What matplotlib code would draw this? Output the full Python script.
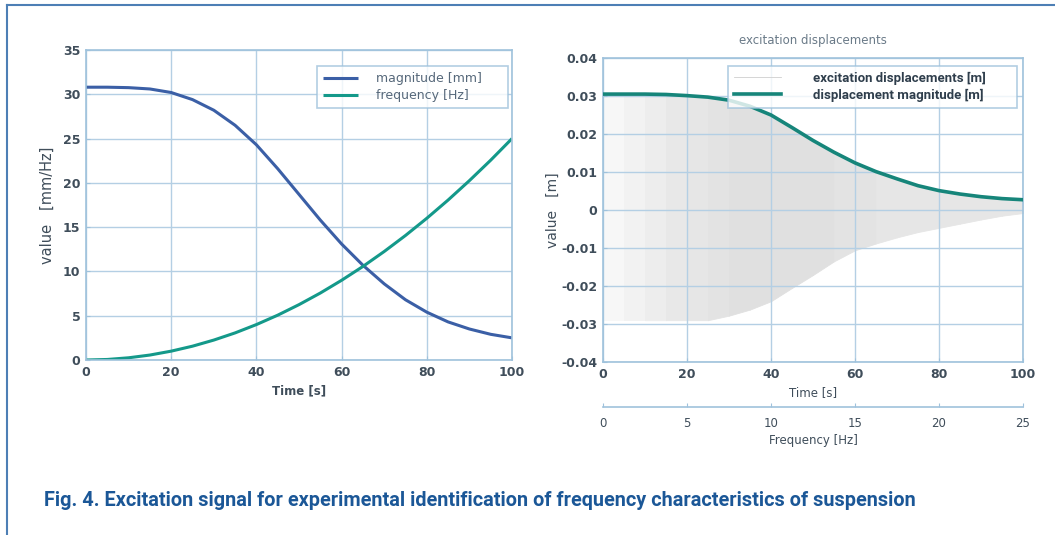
import matplotlib
matplotlib.use("Agg")
import matplotlib.pyplot as plt
from matplotlib.lines import Line2D
import numpy as np

# ---------------- data ----------------
time_s = [0, 5, 10, 15, 20, 25, 30, 35, 40, 45, 50, 55, 60, 65, 70, 75, 80, 85, 90, 95, 100]
magnitude_mm = [30.8, 30.8, 30.75, 30.6, 30.2, 29.4, 28.2, 26.5, 24.3, 21.6, 18.7,
                15.8, 13.1, 10.7, 8.6, 6.8, 5.4, 4.3, 3.5, 2.9, 2.5]
frequency_hz = [0.0, 0.06, 0.25, 0.56, 1.0, 1.56, 2.25, 3.06, 4.0, 5.06, 6.25,
                7.56, 9.0, 10.56, 12.25, 14.06, 16.0, 18.06, 20.25, 22.56, 25.0]

disp_mag_m = [0.0305, 0.0305, 0.0305, 0.0304, 0.0301, 0.0297, 0.0289, 0.0273, 0.0250,
              0.0217, 0.0183, 0.0152, 0.0124, 0.0101, 0.0082, 0.0064, 0.0051, 0.0042,
              0.0035, 0.0030, 0.0027]
# lower envelope of the (dense) excitation displacement signal
exc_lower_m = [-0.0290, -0.0290, -0.0290, -0.0290, -0.0290, -0.0290, -0.0278, -0.0262, -0.0240,
               -0.0205, -0.0171, -0.0135, -0.0106, -0.0088, -0.0072, -0.0058, -0.0047,
               -0.0036, -0.0025, -0.0015, -0.0008]
# grey density of the excitation trace in each 5 s segment (0 = white, 1 = black)
exc_density = [0.03, 0.05, 0.07, 0.09, 0.10, 0.11, 0.12, 0.12, 0.12, 0.12,
               0.12, 0.11, 0.11, 0.10, 0.10, 0.10, 0.10, 0.10, 0.10, 0.10]

left_yticks = [0, 5, 10, 15, 20, 25, 30, 35]
right_yticks = [-0.04, -0.03, -0.02, -0.01, 0, 0.01, 0.02, 0.03, 0.04]
right_yticklabels = ["-0.04", "-0.03", "-0.02", "-0.01", "0", "0.01", "0.02", "0.03", "0.04"]
time_ticks = [0, 20, 40, 60, 80, 100]
freq_ticks = [0, 5, 10, 15, 20, 25]

caption = "Fig. 4. Excitation signal for experimental identification of frequency characteristics of suspension"

# ---------------- style ----------------
W, H = 1055, 535
fig = plt.figure(figsize=(W / 100, H / 100), dpi=100)
fig.patch.set_facecolor("white")

tick_col = "#3f4d5a"
grid_col = "#b4cfe4"
spine_col = "#9fc2dc"
blue = "#3b5fa6"
teal = "#14998a"
teal_dark = "#16857a"

def fx(px):
    return px / W

def fy(py):
    return 1 - py / H

def style_axes(ax):
    for s in ax.spines.values():
        s.set_color(spine_col)
        s.set_linewidth(1.2)
    ax.grid(True, color=grid_col, linewidth=1.0)
    ax.set_axisbelow(True)
    ax.tick_params(direction="in", length=3, color=spine_col, labelcolor=tick_col,
                   labelsize=9, pad=4)
    for lab in ax.get_xticklabels() + ax.get_yticklabels():
        lab.set_fontweight("bold")

# ---------------- left axes ----------------
axL = fig.add_axes([fx(86), fy(360), fx(512) - fx(86), fy(50) - fy(360)])
axL.plot(time_s, magnitude_mm, color=blue, lw=2.2, label="magnitude [mm]", solid_capstyle="butt")
axL.plot(time_s, frequency_hz, color=teal, lw=2.2, label="frequency [Hz]", solid_capstyle="butt")
axL.set_xlim(0, 100)
axL.set_ylim(0, 35)
axL.set_xticks(time_ticks)
axL.set_yticks(left_yticks)
style_axes(axL)
axL.set_xlabel("Time [s]", fontsize=8.5, color=tick_col, fontweight="bold", labelpad=4)
axL.set_ylabel("value   [mm/Hz]", fontsize=10.5, color=tick_col, labelpad=6)
x0, y0 = (317 - 86) / 426, (360 - 108) / 310
leg = axL.legend(loc="lower left", bbox_to_anchor=(x0, y0, (508 - 317) / 426, (108 - 59) / 310),
                 mode="expand", borderaxespad=0, fontsize=9, frameon=True, fancybox=False,
                 handlelength=2.8, handletextpad=1.5, borderpad=0.45, labelspacing=0.35)
leg.get_frame().set_edgecolor(spine_col)
leg.get_frame().set_linewidth(1.2)
for t in leg.get_texts():
    t.set_color("#56687a")

# ---------------- right axes ----------------
axR = fig.add_axes([fx(603), fy(362), fx(1023) - fx(603), fy(58) - fy(362)])
for i in range(len(time_s) - 1):
    seg_t = time_s[i:i + 2]
    g = 1 - exc_density[i]
    axR.fill_between(seg_t, exc_lower_m[i:i + 2], disp_mag_m[i:i + 2],
                     facecolor=(g, g, g), edgecolor=(g, g, g), linewidth=0.6, zorder=0.3)
axR.plot([], [], color="#cfcfcf", lw=0.6, label="excitation displacements [m]")
axR.plot(time_s, disp_mag_m, color=teal_dark, lw=2.6, label="displacement magnitude [m]",
         zorder=3)
axR.set_xlim(0, 100)
axR.set_ylim(-0.04, 0.04)
axR.set_xticks(time_ticks)
axR.set_yticks(right_yticks)
axR.set_yticklabels(right_yticklabels)
style_axes(axR)
axR.set_xlabel("Time [s]", fontsize=8.5, color=tick_col, labelpad=4)
axR.set_ylabel("value   [m]", fontsize=10, color=tick_col, labelpad=1)
axR.set_title("excitation displacements", fontsize=8.5, color="#6a7a88", pad=10)
x0, y0 = (728 - 603) / 420, (362 - 108) / 304
legR = axR.legend(loc="lower left", bbox_to_anchor=(x0, y0, (1017 - 728) / 420, (108 - 58) / 304),
                  mode="expand", borderaxespad=0, frameon=True, fancybox=False,
                  handlelength=3.6, handletextpad=2.4, borderpad=0.45, labelspacing=0.3,
                  prop={"weight": "bold", "size": 9.5, "family": ["Roboto", "DejaVu Sans"]})
legR.get_frame().set_edgecolor(spine_col)
legR.get_frame().set_linewidth(1.2)
for t in legR.get_texts():
    t.set_color("#2f3e4c")

# secondary frequency axis
sec = axR.secondary_xaxis((362 - 407) / 304, functions=(lambda t: np.asarray(t) / 4.0,
                                                      lambda f: np.asarray(f) * 4.0))
sec.set_xticks(freq_ticks)
sec.spines["bottom"].set_color(spine_col)
sec.spines["bottom"].set_linewidth(1.2)
sec.tick_params(direction="in", length=3, color=spine_col, labelcolor=tick_col, labelsize=8.5, pad=7)
sec.set_xlabel("Frequency [Hz]", fontsize=8.5, color=tick_col, labelpad=3)

# ---------------- frame and caption ----------------
frame_col = "#4d7fb5"
fig.add_artist(Line2D([fx(7), fx(7)], [0, fy(5)], color=frame_col, lw=1.5))
fig.add_artist(Line2D([fx(7), 1], [fy(5), fy(5)], color=frame_col, lw=1.5))

fig.text(fx(44), fy(500), caption, fontsize=14.3, fontweight="bold", color="#1b5797",
         family=["Roboto", "DejaVu Sans"], va="center", ha="left")

fig.savefig("out.png", dpi=100, facecolor="white")
